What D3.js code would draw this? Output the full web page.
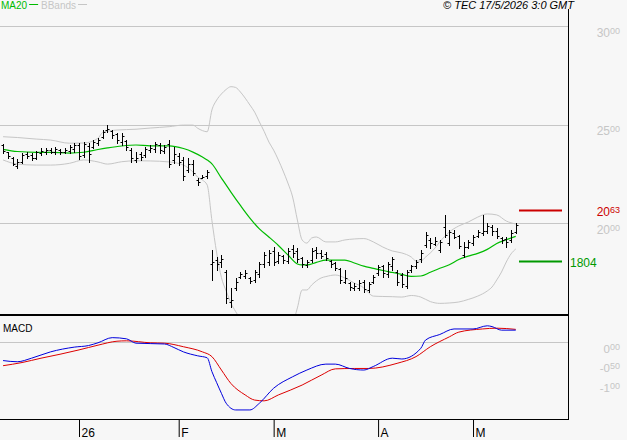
<!DOCTYPE html>
<html>
<head>
<meta charset="utf-8">
<script src="https://d3js.org/d3.v7.min.js"></script>
<style>
  body { margin: 0; background: #f7f7f7; }
  svg { display: block; font-family: "Liberation Sans", Arial, sans-serif; }
</style>
</head>
<body>
<svg id="chart" width="627" height="440"></svg>
<script>
// trading day index 0..108, month starts on the axis
const monthIdx = [16, 37, 57, 79, 99];
const monthLbl = ["26", "F", "M", "A", "M"];

const priceTicks = [20, 25, 30];
const macdTicks = [0, -0.5, -1];
const resistance = 20.63;
const support = 18.04;

const opens = [23.95,23.60,23.30,22.90,23.10,23.50,23.45,23.30,23.55,23.60,
  23.70,23.60,23.70,23.60,23.65,23.75,23.95,23.45,23.90,23.85,
  24.05,24.35,24.70,24.65,24.50,24.10,24.15,23.70,23.20,23.50,
  23.45,23.70,23.75,23.95,23.65,24.00,23.20,23.40,23.20,22.70,
  23.00,22.20,22.30,22.40,17.90,18.10,18.00,17.50,16.00,16.70,
  17.25,17.30,17.20,17.10,17.40,17.90,18.00,18.60,18.05,18.30,
  18.05,18.70,18.60,18.20,17.85,18.10,18.65,18.50,18.45,18.05,
  17.95,17.65,17.00,16.95,16.70,16.70,17.00,16.60,17.00,17.45,
  17.80,17.40,17.80,17.50,17.35,16.80,17.60,17.80,18.15,18.90,
  19.15,18.95,18.65,19.80,19.00,19.50,19.35,18.40,18.80,19.00,
  19.35,19.50,19.60,19.80,19.60,19.25,19.20,19.15,19.55];
const highs = [24.01,23.62,23.33,23.23,23.54,23.62,23.54,23.67,23.79,23.79,
  23.79,23.84,23.74,23.79,23.96,24.05,24.05,24.13,24.05,24.21,
  24.30,24.72,24.97,24.72,24.55,24.55,24.21,23.79,23.62,23.62,
  23.87,23.96,24.13,24.05,23.96,24.21,23.87,23.54,23.37,23.28,
  23.20,22.27,22.44,22.69,18.63,18.29,18.38,17.61,16.69,17.19,
  17.53,17.61,17.27,17.61,18.04,18.54,18.63,18.80,18.54,18.38,
  18.72,18.88,18.72,18.29,18.12,18.72,18.80,18.63,18.54,18.12,
  18.04,17.70,17.61,17.02,16.94,17.11,17.11,17.02,17.36,17.87,
  17.87,18.04,18.29,17.61,17.45,17.61,17.87,18.12,18.63,19.56,
  19.22,19.30,19.14,20.41,19.64,19.64,19.39,19.05,19.14,19.39,
  19.64,20.41,19.98,19.90,19.73,19.30,19.30,19.64,19.98];
const lows = [23.54,23.28,22.94,22.78,23.03,23.28,23.20,23.23,23.45,23.50,
  23.54,23.50,23.50,23.54,23.57,23.62,23.23,23.37,23.11,23.79,
  23.96,24.30,24.63,24.30,24.05,23.96,23.71,23.11,23.11,23.20,
  23.37,23.62,23.62,23.54,23.54,22.86,23.03,22.94,22.18,22.60,
  22.44,21.93,22.27,22.27,17.11,17.61,17.78,15.92,15.75,16.60,
  17.19,17.19,16.94,17.02,17.27,17.78,17.87,17.87,17.95,17.95,
  17.95,18.29,18.04,17.78,17.78,18.04,18.21,18.21,18.12,17.78,
  17.61,16.94,16.94,16.60,16.60,16.60,16.51,16.51,16.94,17.36,
  17.27,17.27,17.61,16.85,16.77,16.69,17.53,17.70,18.04,18.80,
  18.72,18.88,18.54,19.30,18.88,19.22,18.72,18.29,18.72,18.88,
  19.30,19.39,19.48,19.39,19.22,18.97,18.80,19.05,19.48];
const closes = [23.65,23.40,23.00,23.10,23.45,23.40,23.30,23.60,23.65,23.70,
  23.60,23.75,23.60,23.70,23.85,23.95,23.40,24.00,23.50,24.10,
  24.20,24.60,24.75,24.45,24.20,24.40,23.85,23.30,23.30,23.35,
  23.75,23.80,24.00,23.70,23.85,23.00,23.50,23.10,22.40,23.00,
  22.55,22.10,22.35,22.60,18.00,17.90,18.15,16.20,16.10,17.00,
  17.40,17.45,17.05,17.50,17.90,18.40,18.50,18.00,18.40,18.10,
  18.60,18.50,18.15,17.90,18.00,18.60,18.50,18.35,18.20,17.90,
  17.70,17.10,17.20,16.75,16.80,16.95,16.65,16.90,17.25,17.75,
  17.45,17.90,18.15,17.00,16.90,17.50,17.80,18.00,18.50,19.40,
  19.00,19.10,19.05,19.40,19.55,19.30,18.85,18.80,19.05,19.30,
  19.55,19.60,19.85,19.60,19.35,19.15,19.05,19.50,19.90];

// MA20
const maIdx = [0,3,7,10,14,17,20,22,25,28,31,35,38,40,42,43,44,46,48,50,
  52,54,56,58,60,62,63,64,66,68,72,74,76,78,80,82,84,86,88,90,
  92,94,96,98,100,102,104,106,108];
const maVal = [23.74,23.63,23.59,23.59,23.55,23.59,23.73,23.81,23.91,23.96,
  23.92,23.92,23.78,23.60,23.35,23.20,23.00,22.28,21.57,20.89,
  20.25,19.70,19.29,18.86,18.38,17.92,17.87,17.87,18.00,18.12,
  18.12,17.97,17.81,17.70,17.59,17.49,17.39,17.29,17.31,17.50,
  17.70,17.88,18.15,18.32,18.46,18.66,18.96,19.15,19.32];

// Bollinger bands
const upIdx = [0,3,7,10,14,17,20,21,24,28,31,35,38,40,41,42,43,44,45,46,
  47,48,49,50,51,52,53,54,55,56,57,58,59,60,61,62,63,64,65,66,
  68,70,72,74,76,78,80,82,84,86,87,88,89,90,91,92,94,96,98,100,
  102,104,106,108];
const upVal = [24.38,24.34,24.26,24.21,24.05,24.06,24.30,24.60,24.72,24.76,
  24.82,24.89,24.97,24.97,24.81,24.69,24.63,25.74,26.24,26.55,
  26.78,26.92,26.88,26.65,26.34,25.99,25.63,25.13,24.65,24.11,
  23.70,23.20,22.64,22.03,21.32,20.15,19.14,18.98,19.24,19.29,
  19.04,19.04,19.14,19.19,19.21,19.04,18.78,18.58,18.48,18.27,
  18.07,18.07,18.27,18.48,18.73,19.04,19.54,19.85,20.05,20.30,
  20.46,20.41,20.10,19.95];
const loIdx = [0,3,7,10,14,17,20,22,25,28,31,35,38,40,41,42,43,44,45,46,
  47,48,49,50,51,52,53,54,55,56,57,58,59,60,61,62,63,64,65,66,
  67,68,70,72,74,76,77,78,80,82,84,86,88,90,92,94,96,98,100,102,
  103,104,105,106,107,108];
const loVal = [23.20,22.99,22.94,22.94,23.03,23.20,23.10,22.99,23.11,23.16,
  23.15,23.10,22.94,22.59,22.33,22.18,21.93,20.12,18.48,17.23,
  16.55,15.94,15.50,15.13,14.78,14.51,14.27,14.27,14.33,14.47,
  14.48,14.52,14.62,14.73,14.92,15.69,16.60,16.60,16.85,17.06,
  17.21,17.28,17.36,17.21,16.95,16.70,16.45,16.29,16.27,16.26,
  16.24,16.32,16.24,16.01,15.92,15.94,15.99,16.12,16.29,16.55,
  16.75,17.11,17.51,18.02,18.43,18.68];

// MACD (blue) and signal (red)
const macdIdx = [0,3,6,10,15,18,20,23,26,28,34,36,38,41,43,44,45,46,47,49,
  52,54,57,61,64,68,70,73,76,78,82,84,88,89,92,95,99,102,103,105,108];
const macdVal = [-0.47,-0.50,-0.41,-0.25,-0.13,-0.09,-0.02,0.11,0.08,-0.03,
  -0.05,-0.14,-0.25,-0.35,-0.40,-0.75,-1.03,-1.30,-1.55,-1.72,
  -1.72,-1.55,-1.17,-0.88,-0.71,-0.56,-0.56,-0.67,-0.71,-0.62,
  -0.41,-0.43,-0.16,0.05,0.19,0.33,0.33,0.41,0.39,0.30,0.30];
const sigIdx = [0,4,8,12,16,20,24,26,31,34,38,42,44,46,48,51,53,55,58,63,
  67,70,74,77,83,87,90,94,96,101,104,108];
const sigVal = [-0.60,-0.52,-0.41,-0.31,-0.20,-0.08,0.02,0.03,-0.02,-0.03,
  -0.12,-0.25,-0.37,-0.71,-1.05,-1.34,-1.47,-1.49,-1.34,-1.09,
  -0.84,-0.68,-0.67,-0.67,-0.54,-0.37,-0.12,0.13,0.25,0.33,0.35,0.32];

const plotW = 568;
const mainBottom = 315, macdBottom = 419;
const grey = "#c6c6c6";

const svg = d3.select("#chart");

const x = d3.scaleLinear().domain([0, 108]).range([3.05, 515.75]);
const y = d3.scaleLinear().domain([20, 30]).range([223, 26]);
const ym = d3.scaleLinear().domain([-1, 0]).range([381.5, 342]);

const crisp = v => Math.round(v) + 0.5;

svg.append("clipPath").attr("id", "clipMain")
  .append("rect").attr("x", 0).attr("y", 0).attr("width", plotW).attr("height", mainBottom);
svg.append("clipPath").attr("id", "clipMacd")
  .append("rect").attr("x", 0).attr("y", mainBottom).attr("width", plotW).attr("height", macdBottom - mainBottom);

// grid
svg.append("g").selectAll("line").data(priceTicks).join("line")
  .attr("x1", 0).attr("x2", plotW)
  .attr("y1", d => crisp(y(d))).attr("y2", d => crisp(y(d)))
  .attr("stroke", grey);
svg.append("line")
  .attr("x1", 0).attr("x2", plotW)
  .attr("y1", crisp(ym(0))).attr("y2", crisp(ym(0)))
  .attr("stroke", grey);

const main = svg.append("g").attr("clip-path", "url(#clipMain)");

const line = (sx, sy) => d3.line().x(d => sx(d[0])).y(d => sy(d[1])).curve(d3.curveMonotoneX);

main.append("path").datum(d3.zip(upIdx, upVal))
  .attr("d", line(x, y)).attr("fill", "none").attr("stroke", grey).attr("stroke-width", 1);
main.append("path").datum(d3.zip(loIdx, loVal))
  .attr("d", line(x, y)).attr("fill", "none").attr("stroke", grey).attr("stroke-width", 1);
main.append("path").datum(d3.zip(maIdx, maVal))
  .attr("d", line(x, y)).attr("fill", "none").attr("stroke", "#00bb00").attr("stroke-width", 1.2);

// OHLC bars
main.append("g").selectAll("path").data(d3.range(opens.length)).join("path")
  .attr("d", i => {
    const xi = crisp(x(i));
    const yo = crisp(y(opens[i])), yc = crisp(y(closes[i]));
    return `M${xi},${Math.round(y(highs[i]))}V${Math.round(y(lows[i])) + 1}` +
      `M${xi - 2},${yo}H${xi}M${xi},${yc}H${xi + 2}`;
  })
  .attr("fill", "none").attr("stroke", "#000").attr("stroke-width", 1);

// support / resistance
svg.append("line").attr("x1", 519).attr("x2", 562)
  .attr("y1", y(resistance)).attr("y2", y(resistance))
  .attr("stroke", "#cc0000").attr("stroke-width", 2);
svg.append("line").attr("x1", 519).attr("x2", 562)
  .attr("y1", y(support)).attr("y2", y(support))
  .attr("stroke", "#009900").attr("stroke-width", 2);

// MACD panel
const macdG = svg.append("g").attr("clip-path", "url(#clipMacd)");
macdG.append("path").datum(d3.zip(sigIdx, sigVal))
  .attr("d", line(x, ym)).attr("fill", "none").attr("stroke", "#dd0000").attr("stroke-width", 1);
macdG.append("path").datum(d3.zip(macdIdx, macdVal))
  .attr("d", line(x, ym)).attr("fill", "none").attr("stroke", "#0000dd").attr("stroke-width", 1);

// frame
svg.append("line").attr("x1", 0).attr("x2", plotW + 1).attr("y1", mainBottom).attr("y2", mainBottom)
  .attr("stroke", "#000").attr("stroke-width", 2);
svg.append("line").attr("x1", 0).attr("x2", plotW + 1).attr("y1", macdBottom + 0.5).attr("y2", macdBottom + 0.5)
  .attr("stroke", "#000");
svg.append("line").attr("x1", plotW + 0.5).attr("x2", plotW + 0.5).attr("y1", 9).attr("y2", macdBottom + 1)
  .attr("stroke", "#000");

// right axes with superscript decimals
const splitLabel = (sel, mainSize, supSize) => {
  sel.each(function(d) {
    const parts = d.toFixed(2).split(".");
    const t = d3.select(this).text(null);
    t.append("tspan").style("font-size", mainSize + "px").text(parts[0]);
    t.append("tspan").style("font-size", supSize + "px").attr("dy", -3).text(parts[1]);
  });
};

const yAxis = svg.append("g").attr("transform", "translate(620,0)")
  .call(d3.axisRight(y).tickValues(priceTicks).tickSize(0).tickPadding(0));
yAxis.select(".domain").remove();
yAxis.selectAll("text")
  .attr("x", 0).attr("y", 10).attr("dy", 0)
  .attr("text-anchor", "end").attr("fill", grey)
  .call(splitLabel, 12, 9);

const mAxis = svg.append("g").attr("transform", "translate(620,0)")
  .call(d3.axisRight(ym).tickValues(macdTicks).tickSize(0).tickPadding(0));
mAxis.select(".domain").remove();
mAxis.selectAll("text")
  .attr("x", 0).attr("y", 10).attr("dy", 0)
  .attr("text-anchor", "end").attr("fill", grey)
  .call(splitLabel, 11.5, 9);

svg.append("text").attr("x", 620).attr("y", y(resistance) + 5.5)
  .attr("text-anchor", "end").attr("fill", "#cc0000")
  .datum(resistance).call(splitLabel, 12, 9);
svg.append("text").attr("x", 570).attr("y", y(support) + 5)
  .attr("fill", "#009900").style("font-size", "12px")
  .text(support.toFixed(2).replace(".", ""));

// bottom time axis
const xAxis = svg.append("g").attr("transform", `translate(0,${macdBottom})`)
  .call(d3.axisBottom(x).tickValues(monthIdx).tickSize(18).tickFormat((d, i) => monthLbl[i]));
xAxis.select(".domain").remove();
xAxis.selectAll("line").attr("stroke", "#000");
xAxis.selectAll("text")
  .attr("x", 2).attr("y", 18).attr("dy", 0)
  .attr("text-anchor", "start").attr("fill", "#000")
  .style("font-size", "12px").style("font-family", "Liberation Sans, Arial, sans-serif");

// legend and header
const legend = [
  { label: "MA20", color: "#00bb00", x: 1 },
  { label: "BBands", color: grey, x: 41 }
];
legend.forEach(l => {
  const t = svg.append("text").attr("x", l.x).attr("y", 9).attr("fill", l.color)
    .style("font-size", "10px").text(l.label);
  const w = t.node().getComputedTextLength();
  svg.append("line").attr("x1", l.x + w + 2).attr("x2", l.x + w + 11).attr("y1", 4.5).attr("y2", 4.5)
    .attr("stroke", l.color);
});

svg.append("text").attr("x", 574).attr("y", 9).attr("text-anchor", "end")
  .style("font-size", "11px").style("font-style", "italic").attr("fill", "#000")
  .text("© TEC 17/5/2026 3:0 GMT");

svg.append("text").attr("x", 3).attr("y", 332)
  .style("font-size", "10px").attr("fill", "#000").text("MACD");
</script>
</body>
</html>
